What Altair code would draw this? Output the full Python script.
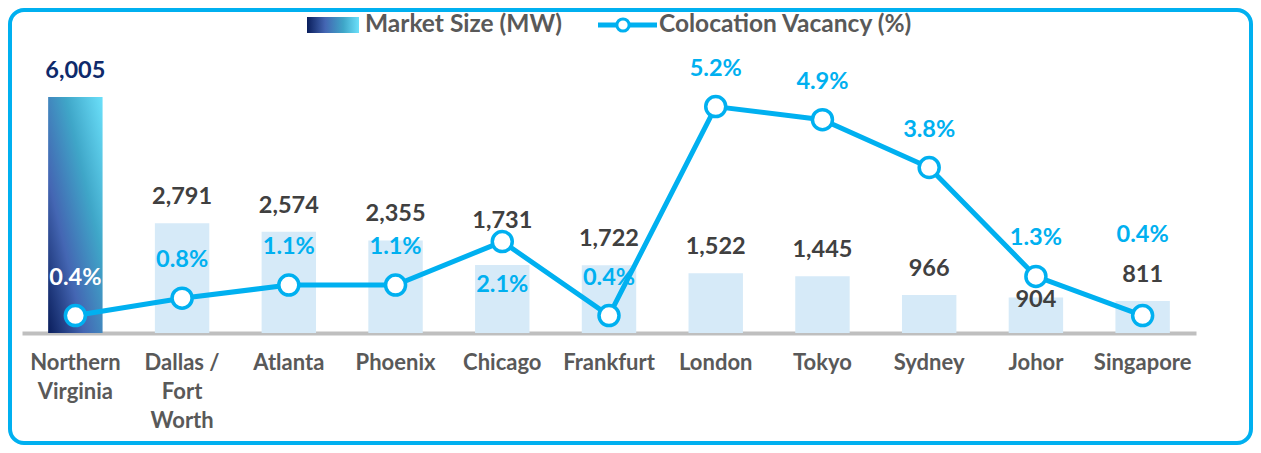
import altair as alt
import pandas as pd

# ---------------- data ----------------
CITIES = ["Northern\nVirginia", "Dallas /\nFort\nWorth", "Atlanta", "Phoenix", "Chicago",
          "Frankfurt", "London", "Tokyo", "Sydney", "Johor", "Singapore"]
MARKET_MW = [6005, 2791, 2574, 2355, 1731, 1722, 1522, 1445, 966, 904, 811]
VACANCY = [0.4, 0.8, 1.1, 1.1, 2.1, 0.4, 5.2, 4.9, 3.8, 1.3, 0.4]
LEGEND_BAR = "Market Size (MW)"
LEGEND_LINE = "Colocation Vacancy (%)"

# ---------------- styles ----------------
CYAN = "#00B0F0"
LIGHT_BAR = "#D6EAF8"
FONT = "Lato"
NV = CITIES[0]

df = pd.DataFrame({"city": CITIES, "mw": MARKET_MW, "vac": VACANCY})

bar_grad = alt.LinearGradient(
    gradient="linear", x1=0, y1=1, x2=1, y2=0,
    stops=[alt.GradientStop(color="#0A1E5C", offset=0),
           alt.GradientStop(color="#4466B3", offset=0.33),
           alt.GradientStop(color="#3FA6C8", offset=0.66),
           alt.GradientStop(color="#6BE0FA", offset=1)])
leg_grad = alt.LinearGradient(
    gradient="linear", x1=0, y1=0.5, x2=1, y2=0.5,
    stops=[alt.GradientStop(color="#0A1E5C", offset=0),
           alt.GradientStop(color="#4466B3", offset=0.35),
           alt.GradientStop(color="#3FA6C8", offset=0.7),
           alt.GradientStop(color="#6BE0FA", offset=1)])

x = alt.X("city:N", sort=CITIES,
          scale=alt.Scale(range=[12, 1186], paddingInner=0.49, paddingOuter=0.245),
          axis=alt.Axis(labelExpr="split(datum.label, '\\n')", labelFont=FONT,
                        labelFontWeight="bold", labelFontSize=22, labelColor="#595959",
                        labelLineHeight=29, labelPadding=19, ticks=False, tickSize=0,
                        domainColor="#BFBFBF", domainWidth=4, offset=-110, title=None,
                        labelAngle=0, labelOverlap=False, labelBound=False, grid=False))
y_bar = alt.Y("mw:Q", scale=alt.Scale(domain=[0, 7200], range=[323, 40], nice=False), axis=None)
y_line = alt.Y("vac:Q", scale=alt.Scale(domain=[0, 6.5], range=[323, 40], nice=False), axis=None)

base = alt.Chart(df).transform_calculate(vlabel="format(datum.vac, '.1f') + '%'")


def only(names):
    return alt.FieldOneOfPredicate(field="city", oneOf=names)


def excluding(names):
    return {"not": {"field": "city", "oneOf": names}}


bars_other = base.transform_filter(excluding([NV])).mark_bar(color=LIGHT_BAR).encode(x=x, y=y_bar)
bar_nv = base.transform_filter(only([NV])).mark_bar(color=bar_grad).encode(x=x, y=y_bar)

txt = dict(font=FONT, fontWeight="bold", fontSize=23.5, baseline="alphabetic", align="center")
mw_text = alt.Text("mw:Q", format=",")


def bar_label(names, dy, color, include=True):
    flt = only(names) if include else excluding(names)
    return base.transform_filter(flt).mark_text(dy=dy, color=color, **txt).encode(
        x=x, y=y_bar, text=mw_text)


bl_default = bar_label([NV, "Chicago", "Johor"], -19, "#404040", include=False)
bl_nv = bar_label([NV], -19, "#0E2A6B")
bl_chi = bar_label(["Chicago"], -37, "#404040")
bl_joh = bar_label(["Johor"], 10, "#404040")

line = base.mark_line(color=CYAN, strokeWidth=5).encode(x=x, y=y_line)
pts = base.mark_point(shape="circle", filled=True, fill="white", stroke=CYAN,
                      strokeWidth=3.5, size=400, opacity=1).encode(x=x, y=y_line)


def vac_label(names, dy, color, include=True):
    flt = only(names) if include else excluding(names)
    return base.transform_filter(flt).mark_text(dy=dy, color=color, **txt).encode(
        x=x, y=y_line, text="vlabel:N")


vl_default = vac_label([NV, "Chicago", "Singapore"], -31, CYAN, include=False)
vl_nv = vac_label([NV], -31, "white")
vl_chi = vac_label(["Chicago"], 50, CYAN)
vl_sg = vac_label(["Singapore"], -74, CYAN)

# ---------------- legend ----------------
one = alt.Chart(pd.DataFrame({"k": [0]}))
leg_rect = one.mark_rect(color=leg_grad).encode(
    x=alt.value(297), x2=alt.value(349), y=alt.value(7), y2=alt.value(23))
leg_t1 = one.mark_text(font=FONT, fontWeight="bold", fontSize=24.5, color="#595959",
                       align="left", baseline="middle").encode(
    x=alt.value(355), y=alt.value(15), text=alt.value(LEGEND_BAR))
leg_rule = one.mark_rule(color=CYAN, strokeWidth=5).encode(
    x=alt.value(588), x2=alt.value(647), y=alt.value(15))
leg_pt = one.mark_point(shape="circle", filled=True, fill="white", stroke=CYAN,
                        strokeWidth=3, size=150, opacity=1).encode(
    x=alt.value(613), y=alt.value(15))
leg_t2 = one.mark_text(font=FONT, fontWeight="bold", fontSize=24.5, color="#595959",
                       align="left", baseline="middle").encode(
    x=alt.value(649), y=alt.value(15), text=alt.value(LEGEND_LINE))

chart = alt.layer(
    bars_other, bar_nv, bl_default, bl_nv, bl_chi, bl_joh,
    line, pts, vl_default, vl_nv, vl_chi, vl_sg,
    leg_rect, leg_t1, leg_rule, leg_pt, leg_t2,
).resolve_scale(y="independent").properties(
    width=1241, height=433,
    autosize=alt.AutoSizeParams(type="none"),
    padding={"left": 2, "top": 2, "right": 2, "bottom": 2},
).configure(
    background="white"
).configure_view(
    stroke=CYAN, strokeWidth=4, cornerRadius=14
)

chart.save("out.html", embed_options={"renderer": "svg", "actions": False})
